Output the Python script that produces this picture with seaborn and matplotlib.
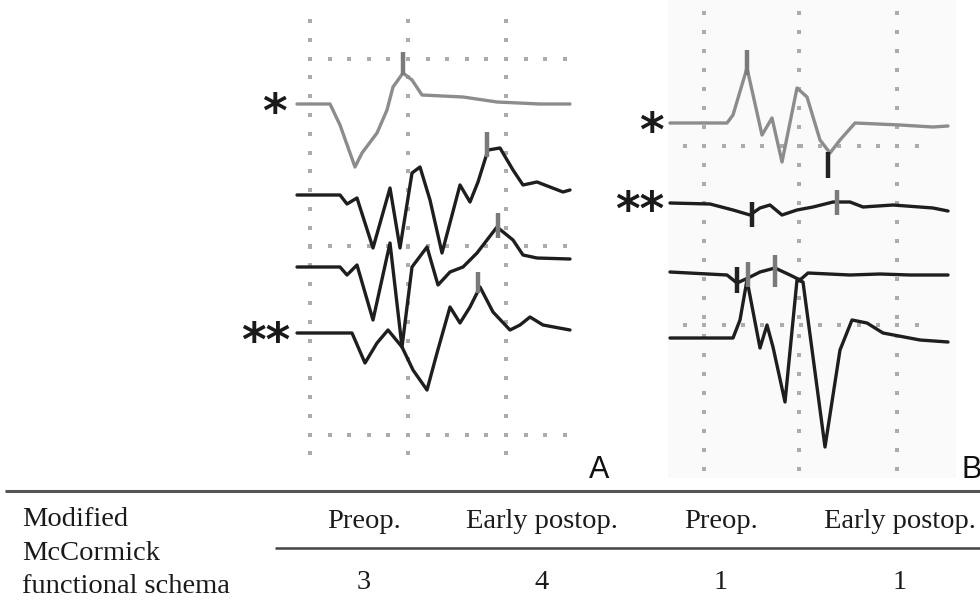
import numpy as np
import pandas as pd
import seaborn as sns
import matplotlib.pyplot as plt
from matplotlib.patches import Rectangle

# Traces (x = time position, y = deflection, image units, y grows downward)
# Panel A
a1_x = [297, 330, 340, 355, 362, 377, 387, 393, 403, 412, 422, 463, 497, 540, 570]
a1_y = [104, 104, 125, 167, 153, 133, 110, 87, 73, 80, 95, 97, 102, 104, 104]
a2_x = [297, 340, 347, 357, 373, 390, 400, 412, 420, 430, 442, 460, 470, 478, 488, 500, 513, 523, 537, 550, 563, 570]
a2_y = [195, 195, 204, 198, 248, 188, 248, 173, 167, 200, 253, 185, 202, 182, 150, 148, 170, 185, 182, 187, 192, 190]
a3_x = [297, 340, 347, 357, 373, 390, 402, 412, 427, 438, 450, 463, 477, 497, 513, 523, 537, 570]
a3_y = [267, 267, 275, 265, 320, 243, 347, 267, 247, 285, 272, 267, 253, 227, 240, 255, 258, 259]
a4_x = [297, 352, 365, 377, 388, 402, 413, 427, 437, 450, 460, 470, 480, 493, 510, 520, 530, 543, 570]
a4_y = [333, 333, 363, 343, 330, 347, 370, 390, 353, 307, 323, 307, 287, 312, 330, 325, 317, 325, 330]
# Panel B
b1_x = [670, 727, 733, 747, 762, 772, 782, 797, 807, 820, 830, 840, 855, 900, 933, 948]
b1_y = [123, 123, 115, 68, 135, 118, 162, 88, 97, 140, 153, 140, 123, 125, 127, 126]
b2_x = [670, 710, 733, 750, 760, 770, 782, 797, 813, 833, 850, 863, 893, 933, 948]
b2_y = [203, 204, 210, 215, 208, 205, 215, 210, 207, 202, 202, 207, 205, 208, 211]
b3_x = [670, 727, 737, 748, 760, 775, 790, 800, 808, 850, 880, 910, 948]
b3_y = [272, 275, 283, 278, 272, 268, 275, 280, 273, 275, 274, 275, 275]
b4_x = [670, 733, 740, 747, 760, 767, 773, 785, 797, 803, 825, 840, 852, 867, 883, 920, 948]
b4_y = [338, 338, 320, 280, 348, 325, 347, 402, 280, 282, 447, 350, 320, 323, 333, 340, 342]

# latency cursors: x, y top, y bottom, dark?
cursor_x = [403, 487, 498, 478, 747, 828, 752, 837, 737, 748, 775]
cursor_y0 = [52, 132, 213, 272, 50, 152, 202, 190, 267, 262, 255]
cursor_y1 = [75, 157, 238, 293, 75, 178, 227, 215, 293, 287, 287]
cursor_dark = [False, False, False, False, False, True, True, False, True, False, False]

# table
col_heads = ["Preop.", "Early postop.", "Preop.", "Early postop."]
mcc_scores = ["3", "4", "1", "1"]
row_label = ["Modified", "McCormick", "functional schema"]

sns.set_theme(style="white")
plt.rcParams["font.family"] = ["Liberation Serif", "DejaVu Serif"]

fig = plt.figure(figsize=(9.8, 6.01), dpi=100)
ax = fig.add_axes([0, 0, 1, 1])

# faint background of panel B
ax.add_patch(Rectangle((668, 0), 288, 478, color="#fafafa", zorder=0, lw=0))

# dotted grids
def dot_grid(cols, rows, y_range, x_range, ystep, xstep):
    pts = []
    for c in cols:
        for y in np.arange(y_range[0], y_range[1] + 0.1, ystep):
            pts.append((c, y))
    for r in rows:
        for x in np.arange(x_range[0], x_range[1] + 0.1, xstep):
            pts.append((x, r))
    pts = np.array(pts)
    ax.scatter(pts[:, 0], pts[:, 1], s=5, marker="s", color="#acacac", lw=0, zorder=1)

dot_grid([310, 408, 506], [59, 246, 435], (21, 463), (310, 565), 18.8, 19.6)
dot_grid([704, 799, 897], [146, 325], (13, 473), (685, 933), 19.0, 19.3)

traces = [
    (a1_x, a1_y, "#8c8c8c"), (a2_x, a2_y, "#1e1e1e"), (a3_x, a3_y, "#1e1e1e"), (a4_x, a4_y, "#1e1e1e"),
    (b1_x, b1_y, "#8c8c8c"), (b2_x, b2_y, "#1e1e1e"), (b3_x, b3_y, "#1e1e1e"), (b4_x, b4_y, "#1e1e1e"),
]
for tx, ty, col in traces:
    df = pd.DataFrame({"t": tx, "v": ty})
    sns.lineplot(data=df, x="t", y="v", sort=False, estimator=None, color=col,
                 lw=2.4, ax=ax, zorder=3)

for cx, c0, c1, dark in zip(cursor_x, cursor_y0, cursor_y1, cursor_dark):
    ax.plot([cx, cx], [c0, c1], color="#222222" if dark else "#7a7a7a",
            lw=3.2, solid_capstyle="butt", zorder=4)
ax.set_xlim(0, 980)
ax.set_ylim(601, 0)
ax.axis("off")

# asterisk labels
star_kw = dict(family="DejaVu Sans", fontsize=34, color="#1a1a1a", ha="right", va="baseline",
               fontweight="bold")
ax.text(287, 104 + 23, "*", **star_kw)
ax.text(290, 333 + 23, "**", **star_kw)
ax.text(664, 123 + 23, "*", **star_kw)
ax.text(664, 202 + 23, "**", **star_kw)

# panel letters
ax.text(599, 478, "A", family="Liberation Sans", fontsize=22, ha="center", va="baseline", color="#111111")
ax.text(961, 478, "B", family="Liberation Sans", fontsize=22, ha="left", va="baseline", color="#111111")

# table
ax.plot([5, 980], [491, 491], color="#555555", lw=2.2, solid_capstyle="butt")
ax.plot([275, 980], [548, 548], color="#444444", lw=1.8, solid_capstyle="butt")
for ly, line in zip([526, 560, 593], row_label):
    ax.text(22, ly, line, fontsize=20.5, ha="left", va="baseline", color="#1a1a1a")
for cx, head, val in zip([364, 542, 721, 900], col_heads, mcc_scores):
    ax.text(cx, 528, head, fontsize=20.5, ha="center", va="baseline", color="#1a1a1a")
    ax.text(cx, 589, val, fontsize=20.5, ha="center", va="baseline", color="#1a1a1a")

fig.savefig("out.png", dpi=100)
